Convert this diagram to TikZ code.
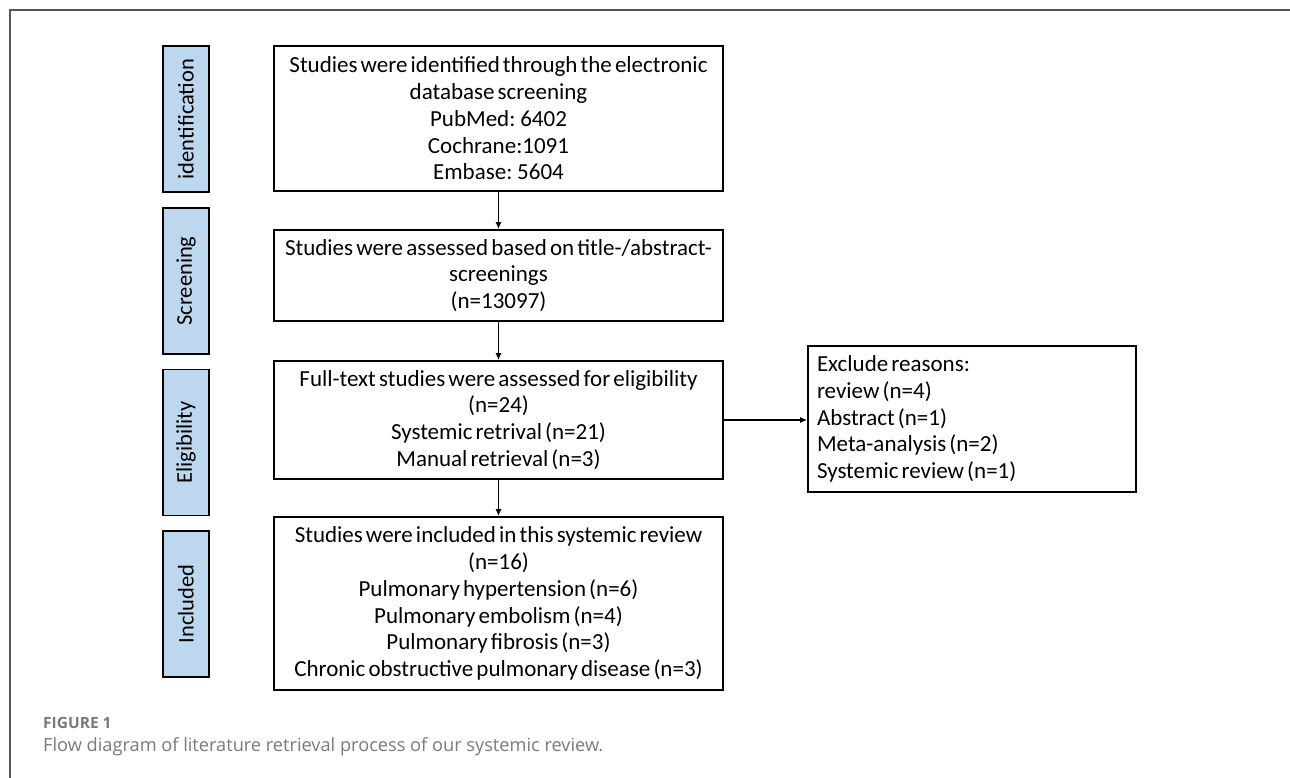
\documentclass[tikz,border=0pt]{standalone}
\usepackage{fontspec}
\setmainfont{Carlito}[WordSpace={0.6}]
\newfontfamily\capfont{Open Sans}
\usetikzlibrary{arrows.meta}

\definecolor{stageblue}{HTML}{BDD7EE}
\definecolor{framegray}{HTML}{555555}
\definecolor{capgray}{HTML}{7A7A7A}

\begin{document}
\begin{tikzpicture}[x=1pt, y=-1pt,
  stage/.style={draw, line width=1.6pt, fill=stageblue, rotate=90, inner sep=0pt,
    minimum width=146pt, minimum height=46pt, font=\fontsize{22.5}{26}\selectfont},
  flowbox/.style={draw, line width=1.7pt, align=center, inner sep=0pt,
    minimum width=449pt, font=\fontsize{23}{26.8}\selectfont},
  flowarrow/.style={line width=1.4pt, -{Latex[length=7pt,width=6pt]}}]

\useasboundingbox (0,0) rectangle (1290,778);

% frame
\draw[framegray, line width=1.5pt] (1290,10) -- (10,10) -- (10,778);

% stages
\node[stage] (ident) at (186,119) {identification};
\node[stage] (screen) at (186,281) {Screening};
\node[stage] (elig) at (186,442.5) {Eligibility};
\node[stage] (incl) at (186,604) {Included};

% flow boxes
\node[flowbox, minimum height=145pt] (found) at (498.5,118.5)
  {Studies were identified through the electronic\\ database screening\\ PubMed: 6402\\ Cochrane:1091\\ Embase: 5604};
\node[flowbox, minimum height=91pt] (assessed) at (498.5,275.5)
  {Studies were assessed based on title-/abstract-\\ screenings\\ (n=13097)};
\node[flowbox, minimum height=118pt] (fulltext) at (498.5,420)
  {Full-text studies were assessed for eligibility\\ (n=24)\\ Systemic retrival (n=21)\\ Manual retrieval (n=3)};
\node[flowbox, minimum height=173pt] (included) at (498.5,603.5)
  {Studies were included in this systemic review\\ (n=16)\\ Pulmonary hypertension (n=6)\\ Pulmonary embolism (n=4)\\ Pulmonary fibrosis (n=3)\\ Chronic obstructive pulmonary disease (n=3)};

\node[flowbox, align=left, minimum width=328pt, minimum height=146pt, text width=310pt] (excluded) at (972,419)
  {\spaceskip=0pt\xspaceskip=0pt\relax Exclude reasons:\\ review (n=4)\\ Abstract (n=1)\\ Meta-analysis (n=2)\\ Systemic review (n=1)};

% arrows
\draw[flowarrow] (found) -- (assessed);
\draw[flowarrow] (assessed) -- (fulltext);
\draw[flowarrow] (fulltext) -- (included);
\draw[flowarrow] (fulltext.east) -- (fulltext.east -| excluded.west);

% caption
\node[anchor=west, inner sep=0pt, text=capgray, font=\capfont\bfseries\fontsize{15.5}{18}\selectfont] (fig) at (43,723) {FIGURE 1};
\node[anchor=west, inner sep=0pt, text=capgray, font=\capfont\fontsize{18.2}{22}\selectfont] (caption) at (43,747)
  {Flow diagram of literature retrieval process of our systemic review.};

\end{tikzpicture}
\end{document}
